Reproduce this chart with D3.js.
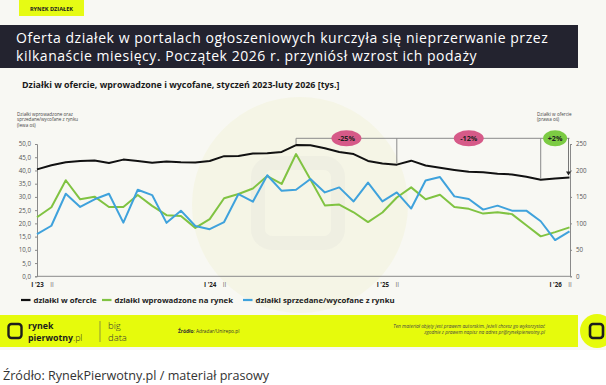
<!DOCTYPE html>
<html>
<head>
<meta charset="utf-8">
<title>Działki w ofercie</title>
<script src="https://cdn.jsdelivr.net/npm/d3@7"></script>
<style>
  html, body { margin: 0; padding: 0; background: #fff; }
  svg { display: block; }
  text { font-family: "Open Sans", "DejaVu Sans", sans-serif; }
</style>
</head>
<body>
<div id="chart"></div>
<script>
// months Jan 2023 .. Feb 2026
var months = ['2023-01','2023-02','2023-03','2023-04','2023-05','2023-06','2023-07','2023-08','2023-09','2023-10','2023-11','2023-12',
              '2024-01','2024-02','2024-03','2024-04','2024-05','2024-06','2024-07','2024-08','2024-09','2024-10','2024-11','2024-12',
              '2025-01','2025-02','2025-03','2025-04','2025-05','2025-06','2025-07','2025-08','2025-09','2025-10','2025-11','2025-12',
              '2026-01','2026-02'];

// działki w ofercie, tys. (prawa oś)
var offer = [202, 210, 215.5, 218, 219, 214, 220.5, 218, 214.5, 217, 215.5, 215,
             218, 227, 227.5, 232, 232.5, 235, 248, 247.5, 242, 235, 231, 218,
             213, 211, 218.5, 209.5, 205, 201, 197.5, 196.5, 194, 192.5, 188, 182.5,
             185, 186.5];

// działki wprowadzone na rynek, tys. (lewa oś)
var added = [22.3, 26.1, 36.3, 29.1, 30.1, 26.2, 26.2, 30.7, 26.6, 23.1, 22.8, 18.3,
             21.6, 29.5, 31.1, 33.2, 37.9, 34.9, 46.2, 36.6, 26.8, 27.1, 24.2, 20.5,
             24.1, 29.8, 33.6, 29.1, 30.8, 26.2, 25.5, 23.7, 24.2, 23.5, 19.3, 15.1,
             16.7, 18.5];

// działki sprzedane/wycofane z rynku, tys. (lewa oś)
var removed = [15.9, 19.1, 31.2, 26.2, 29.1, 31.2, 20.3, 32.7, 30.7, 20.2, 24.8, 19.0,
               17.8, 20.5, 31.1, 28.2, 38.2, 32.3, 32.7, 36.8, 31.7, 33.6, 28.3, 35.4,
               28.3, 31.7, 25.6, 36.2, 37.5, 30.2, 29.2, 25.2, 26.7, 24.8, 24.8, 20.8,
               13.7, 17.0];

var tickMonths = ['2023-01','2023-02','2024-01','2024-02','2025-01','2025-02','2026-01','2026-02'];
var tickLabels = ["I '23", 'II', "I '24", 'II', "I '25", 'II', "I '26", 'II'];

var leftTicks = [0, 5, 10, 15, 20, 25, 30, 35, 40, 45, 50];
var rightTicks = [0, 50, 100, 150, 200, 250];

// change brackets on the offer line
var changes = [
  { from: '2024-07', to: '2025-02', label: '-25%', color: '#d65a88' },
  { from: '2025-02', to: '2025-12', label: '-12%', color: '#d65a88' },
  { from: '2025-12', to: '2026-02', label: '+2%',  color: '#7ccb43' }
];

var series = [
  { name: 'działki w ofercie', values: offer, axis: 'right', color: '#111111' },
  { name: 'działki wprowadzone na rynek', values: added, axis: 'left', color: '#80c342' },
  { name: 'działki sprzedane/wycofane z rynku', values: removed, axis: 'left', color: '#3fa2dc' }
];

var width = 606, height = 385;
var svg = d3.select('#chart').append('svg').attr('width', width).attr('height', height);

// page background
svg.append('rect').attr('width', width).attr('height', 350).attr('fill', '#f8f8f3');

// faint watermark
svg.append('circle').attr('cx', 300).attr('cy', 205).attr('r', 108).attr('fill', '#f5f5e6');
svg.append('rect').attr('x', 258).attr('y', 163).attr('width', 80).attr('height', 80).attr('rx', 14)
  .attr('fill', 'none').attr('stroke', '#efefe2').attr('stroke-width', 14);

// header badge
svg.append('rect').attr('x', 19).attr('y', 0).attr('width', 65).attr('height', 16).attr('fill', '#e6fb14');
svg.append('text').attr('x', 51.5).attr('y', 10.5).attr('text-anchor', 'middle')
  .attr('font-size', 5.6).attr('font-weight', 700).attr('fill', '#222').text('RYNEK DZIAŁEK');

// title banner, lines stretched to the widths seen in the original
svg.append('rect').attr('x', 0).attr('y', 25).attr('width', 578).attr('height', 43).attr('fill', '#23232f');
[['Oferta działek w portalach ogłoszeniowych kurczyła się nieprzerwanie przez', 42.5, 532],
 ['kilkanaście miesięcy. Początek 2026 r. przyniósł wzrost ich podaży', 60.5, 461]].forEach(function(t) {
  var el = svg.append('text').attr('x', 16).attr('y', t[1]).attr('font-size', 14)
    .attr('font-family', 'Roboto, sans-serif').attr('fill', '#fff').text(t[0]);
  var len = el.node().getComputedTextLength();
  el.attr('letter-spacing', ((t[2] - len) / t[0].length).toFixed(2));
});

// subtitle
svg.append('text').attr('x', 22).attr('y', 88).attr('font-size', 8.9).attr('font-weight', 700).attr('fill', '#1a1a1a')
  .text('Działki w ofercie, wprowadzone i wycofane, styczeń 2023-luty 2026 [tys.]');

var x = d3.scalePoint().domain(months).range([37, 569.5]);
var yL = d3.scaleLinear().domain([0, 50]).range([276.3, 144]);
var yR = d3.scaleLinear().domain([0, 250]).range([276.3, 144]);

// axis titles
var lt = svg.append('text').attr('font-size', 4.6).attr('fill', '#444');
['Działki wprowadzone oraz', 'sprzedane/wycofane z rynku', '(lewa oś)'].forEach(function(s, i) {
  lt.append('tspan').attr('x', 17).attr('y', 116 + i * 5.3).text(s);
});
var rt = svg.append('text').attr('font-size', 4.6).attr('fill', '#444');
['Działki w ofercie', '(prawa oś)'].forEach(function(s, i) {
  rt.append('tspan').attr('x', 537).attr('y', 116 + i * 5.3).text(s);
});

// axes
var fmt = function(d) { return d3.format('.1f')(d).replace('.', ','); };
var gL = svg.append('g').attr('transform', 'translate(37,0)')
  .call(d3.axisLeft(yL).tickValues(leftTicks).tickFormat(fmt).tickSize(2).tickPadding(4));
var gR = svg.append('g').attr('transform', 'translate(570,0)')
  .call(d3.axisRight(yR).tickValues(rightTicks).tickSize(2).tickPadding(4));
var gB = svg.append('g').attr('transform', 'translate(0,276.3)')
  .call(d3.axisBottom(x).tickValues(tickMonths)
    .tickFormat(function(d, i) { return tickLabels[i]; }).tickSize(0).tickPadding(6));
[gL, gR, gB].forEach(function(g) {
  g.select('.domain').attr('stroke', '#8a8a8a');
  g.selectAll('.tick line').attr('stroke', '#8a8a8a');
  g.selectAll('.tick text').attr('font-size', 6.2).attr('fill', '#555')
    .attr('font-family', '"Open Sans", sans-serif');
});
gB.select('.domain').attr('d', 'M37,0H570');
gB.selectAll('.tick text').attr('font-weight', function(d, i) { return i % 2 ? 400 : 700; })
  .attr('fill', function(d, i) { return i % 2 ? '#666' : '#222'; });

// lines
series.forEach(function(s) {
  var y = s.axis === 'left' ? yL : yR;
  var line = d3.line()
    .x(function(d, i) { return x(months[i]); })
    .y(function(d) { return y(d); });
  svg.append('path').datum(s.values)
    .attr('d', line)
    .attr('fill', 'none')
    .attr('stroke', s.color)
    .attr('stroke-width', 2)
    .attr('stroke-linejoin', 'round');
});

// change brackets
var topY = 138.3;
var offerAt = function(m) { return yR(offer[months.indexOf(m)]); };
svg.append('path')
  .attr('d', 'M' + x('2024-07') + ',' + topY + 'H' + x('2026-02'))
  .attr('stroke', '#8a8a8a').attr('stroke-width', 1).attr('fill', 'none');
['2024-07', '2025-02', '2025-12'].forEach(function(m) {
  svg.append('line').attr('x1', x(m)).attr('x2', x(m)).attr('y1', topY).attr('y2', offerAt(m) - 1)
    .attr('stroke', '#8a8a8a').attr('stroke-width', 1);
});
svg.append('line').attr('x1', x('2026-02') - 1).attr('x2', x('2026-02') - 1)
  .attr('y1', topY).attr('y2', offerAt('2026-02') - 5)
  .attr('stroke', '#555').attr('stroke-width', 0.8);
svg.append('path')
  .attr('d', 'M' + (x('2026-02') - 3.5) + ',' + (offerAt('2026-02') - 6) + 'h5l-2.5,4z')
  .attr('fill', '#222');
changes.forEach(function(c) {
  var cx = (x(c.from) + x(c.to)) / 2;
  svg.append('ellipse').attr('cx', cx).attr('cy', topY).attr('rx', c.label.length > 3 ? 15 : 12).attr('ry', 8)
    .attr('fill', c.color);
  svg.append('text').attr('x', cx).attr('y', topY + 2.6).attr('text-anchor', 'middle')
    .attr('font-size', 7.2).attr('font-weight', 700).attr('fill', '#222').text(c.label);
});

// legend
var lx = [21, 102, 243];
series.forEach(function(s, i) {
  var g = svg.append('g').attr('transform', 'translate(' + lx[i] + ',300)');
  g.append('line').attr('x1', 0).attr('x2', 9.5).attr('y1', 0).attr('y2', 0)
    .attr('stroke', s.color).attr('stroke-width', 2.2);
  g.append('text').attr('x', 12.5).attr('y', 2.6).attr('font-size', 7.8).attr('font-weight', 700)
    .attr('fill', '#222').text(s.name);
});

// footer band
svg.append('rect').attr('x', 0).attr('y', 315).attr('width', 578).attr('height', 32).attr('fill', '#e6fb0c');
svg.append('circle').attr('cx', 597).attr('cy', 331).attr('r', 17).attr('fill', '#e6fb0c');
svg.append('rect').attr('x', 590).attr('y', 324).attr('width', 13).attr('height', 14).attr('rx', 3)
  .attr('fill', 'none').attr('stroke', '#1d1d1d').attr('stroke-width', 2.6);
svg.append('rect').attr('x', 8.5).attr('y', 324).attr('width', 13).attr('height', 14).attr('rx', 3)
  .attr('fill', 'none').attr('stroke', '#1d1d1d').attr('stroke-width', 2.4);

// logo text
var logo = svg.append('text').attr('font-size', 8.8).attr('font-family', 'Roboto, sans-serif').attr('fill', '#1d1d1d');
logo.append('tspan').attr('x', 28).attr('y', 328.5).attr('font-weight', 700).text('rynek');
logo.append('tspan').attr('x', 28).attr('y', 340.5).attr('font-weight', 700).text('pierwotny');
logo.append('tspan').attr('font-weight', 300).text('.pl');
svg.append('line').attr('x1', 100).attr('x2', 100).attr('y1', 321).attr('y2', 342)
  .attr('stroke', '#555').attr('stroke-width', 0.6);
var bd = svg.append('text').attr('font-size', 9.5).attr('font-weight', 300)
  .attr('font-family', 'Roboto, sans-serif').attr('fill', '#333');
bd.append('tspan').attr('x', 108).attr('y', 328.5).text('big');
bd.append('tspan').attr('x', 108).attr('y', 340.5).text('data');

var src = svg.append('text').attr('x', 178).attr('y', 333).attr('font-size', 4.8).attr('fill', '#333');
src.append('tspan').attr('font-weight', 700).text('Źródło');
src.append('tspan').text(': Adradar/Unirepo.pl');
var cp = svg.append('text').attr('text-anchor', 'end').attr('font-size', 4.8)
  .attr('font-style', 'italic').attr('fill', '#444');
cp.append('tspan').attr('x', 545).attr('y', 328).text('Ten materiał objęty jest prawem autorskim. Jeżeli chcesz go wykorzystać');
cp.append('tspan').attr('x', 545).attr('y', 334).text('zgodnie z prawem napisz na adres pr@rynekpierwotny.pl');

// caption under the graphic
svg.append('text').attr('x', 3).attr('y', 380).attr('font-size', 12.6).attr('fill', '#333')
  .text('Źródło: RynekPierwotny.pl / materiał prasowy');
</script>
</body>
</html>
